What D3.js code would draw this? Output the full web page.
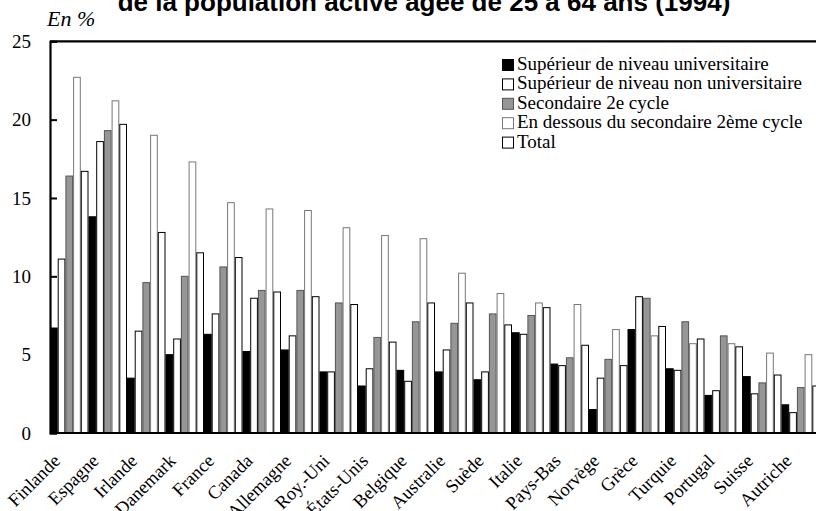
<!DOCTYPE html>
<html><head><meta charset="utf-8">
<script src="https://cdn.jsdelivr.net/npm/d3@7/dist/d3.min.js"></script>
<style>body{margin:0;background:#fff}svg{display:block}
.serif{font-family:'Liberation Serif','Times New Roman','DejaVu Serif',serif}
.sans{font-family:'Liberation Sans',Arial,'DejaVu Sans',sans-serif}
</style>
</head><body>
<svg id="c" width="816" height="511"></svg>
<script>
const countries = ["Finlande","Espagne","Irlande","Danemark","France","Canada","Allemagne","Roy.-Uni","États-Unis","Belgique","Australie","Suède","Italie","Pays-Bas","Norvège","Grèce","Turquie","Portugal","Suisse","Autriche"];
const seriesNames = ["Supérieur de niveau universitaire","Supérieur de niveau non universitaire","Secondaire 2e cycle","En dessous du secondaire 2ème cycle","Total"];
const universitaire    = [6.7,13.8,3.5,5.0,6.3,5.2,5.3,3.9,3.0,4.0,3.9,3.4,6.4,4.4,1.5,6.6,4.1,2.4,3.6,1.8];
const nonUniversitaire = [11.1,18.6,6.5,6.0,7.6,8.6,6.2,3.9,4.1,3.3,5.3,3.9,6.3,4.3,3.5,8.7,4.0,2.7,2.5,1.3];
const secondaire       = [16.4,19.3,9.6,10.0,10.6,9.1,9.1,8.3,6.1,7.1,7.0,7.6,7.5,4.8,4.7,8.6,7.1,6.2,3.2,2.9];
const enDessous        = [22.7,21.2,19.0,17.3,14.7,14.3,14.2,13.1,12.6,12.4,10.2,8.9,8.3,8.2,6.6,6.2,5.7,5.7,5.1,5.0];
const total            = [16.7,19.7,12.8,11.5,11.2,9.0,8.7,8.2,5.8,8.3,8.3,6.9,8.0,5.6,4.3,6.8,6.0,5.5,3.7,3.0];
const yTicks = [0,5,10,15,20,25];
const title = "de la population active âgée de 25 à 64 ans (1994)";
const unitLabel = "En %";

const series = [universitaire, nonUniversitaire, secondaire, enDessous, total];
const fills = ["#000000","#ffffff","#969696","#ffffff","#ffffff"];
const strokes = ["#000000","#000000","#555555","#777777","#000000"];

const svg = d3.select("#c");
const x0 = 50, groupW = 38.5;
const x = d3.scaleBand().domain(countries).range([x0, x0 + groupW*countries.length]).padding(0);
const xs = d3.scaleBand().domain(d3.range(series.length)).range([0, x.bandwidth()]).padding(0);
const y = d3.scaleLinear().domain([0,25]).range([433, 41.3]);

// title
svg.append("text").attr("class","sans").attr("x", 424).attr("y", 11).attr("text-anchor","middle")
  .attr("font-weight","bold").attr("font-size",26)
  .text(title);
svg.append("text").attr("class","serif").attr("x", 47).attr("y", 26)
  .attr("font-style","italic").attr("font-size",22).text(unitLabel);

// bars
const g = svg.append("g");
series.forEach((vals, si) => {
  g.selectAll(null).data(countries).enter().append("rect")
    .attr("x", c => x(c) + xs(si) + 0.5)
    .attr("y", (c,i) => y(vals[i]))
    .attr("width", xs.bandwidth() - 1)
    .attr("height", (c,i) => y(0) - y(vals[i]))
    .attr("fill", fills[si]).attr("stroke", strokes[si]).attr("stroke-width", 1);
});

// frame
svg.append("line").attr("x1", x0).attr("x2", 816).attr("y1", y(25)).attr("y2", y(25)).attr("stroke","#000").attr("stroke-width",2.2);
svg.append("line").attr("x1", x0).attr("x2", 816).attr("y1", y(0)).attr("y2", y(0)).attr("stroke","#000").attr("stroke-width",2.2);

// y axis
const yAxis = d3.axisLeft(y).tickValues(yTicks).tickSize(-7).tickPadding(19);
const ya = svg.append("g").attr("transform", `translate(${x0},0)`).call(yAxis);
ya.select(".domain").attr("stroke-width",2.2);
ya.selectAll(".tick line").attr("stroke-width",2);
ya.selectAll(".tick text").attr("class","serif").attr("font-size",19).attr("fill","#000");

// x labels
svg.append("g").selectAll("text").data(countries).enter().append("text")
  .attr("class","serif")
  .attr("transform", c => `translate(${x(c) + x.bandwidth()/2 - 8},${462}) rotate(-45)`)
  .attr("text-anchor","end")
  .attr("font-size",18.5)
  .text(c => c);

// legend
const lg = svg.append("g").attr("transform","translate(502,59)");
seriesNames.forEach((n, i) => {
  const row = lg.append("g").attr("transform", `translate(0,${i*19.4})`);
  row.append("rect").attr("x",0.5).attr("y",0.5).attr("width",11).attr("height",11)
    .attr("fill", fills[i]).attr("stroke", strokes[i]);
  row.append("text").attr("class","serif").attr("x", 15).attr("y", 11)
    .attr("font-size",19).text(n);
});
</script>
</body></html>
